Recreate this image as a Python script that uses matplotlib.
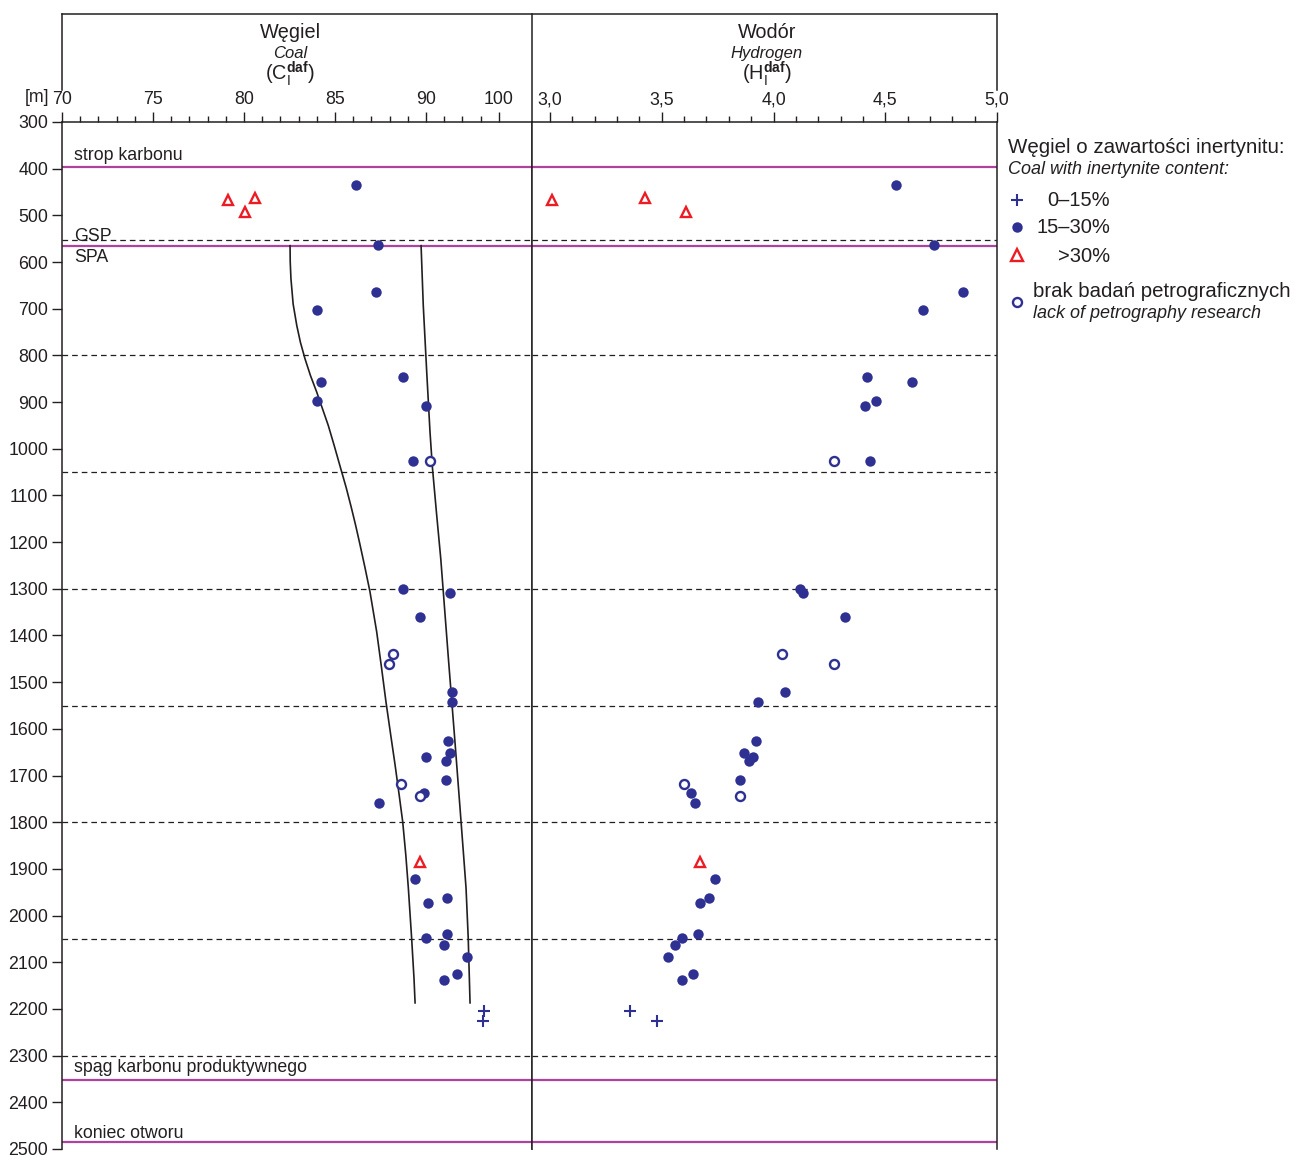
import matplotlib
matplotlib.use('Agg')
import matplotlib.pyplot as plt
from matplotlib.ticker import FixedLocator, FixedFormatter

plt.rcParams['font.family'] = ['Liberation Sans', 'DejaVu Sans']
plt.rcParams['mathtext.fontset'] = 'custom'
plt.rcParams['mathtext.rm'] = 'Liberation Sans'
plt.rcParams['mathtext.it'] = 'Liberation Sans:italic'
plt.rcParams['mathtext.bf'] = 'Liberation Sans:bold'

# samples: depth [m], C daf, H daf
dot_depth = [434, 564, 664, 702, 847, 856, 898, 909, 1026, 1301, 1309, 1360, 1522, 1543,
             1626, 1651, 1660, 1668, 1710, 1738, 1759, 1922, 1963, 1972, 2039, 2047, 2063,
             2088, 2125, 2138]
dot_c = [86.15, 87.35, 87.24, 84.0, 88.72, 84.23, 83.99, 90.0, 89.27, 88.74, 91.3, 89.69,
         91.41, 91.41, 91.19, 91.3, 90.0, 91.08, 91.08, 89.91, 87.43, 89.38, 91.17, 90.11,
         91.17, 90.02, 90.97, 92.25, 91.72, 90.97]
dot_h = [4.55, 4.72, 4.85, 4.67, 4.42, 4.62, 4.46, 4.41, 4.43, 4.12, 4.13, 4.32,
         4.05, 3.93, 3.92, 3.87, 3.91, 3.89, 3.85, 3.63, 3.65, 3.74, 3.71, 3.67,
         3.66, 3.59, 3.56, 3.53, 3.64, 3.59]

open_depth = [1026, 1439, 1460, 1718, 1743]
open_c = [90.22, 88.21, 87.97, 88.61, 89.69]
open_h = [4.27, 4.04, 4.27, 3.60, 3.85]

tri_depth = [468, 463, 493, 1885]
tri_c = [79.1, 80.6, 80.07, 89.69]
tri_h = [3.007, 3.425, 3.608, 3.67]

plus_depth = [2205, 2226]
plus_c = [93.2, 93.11]
plus_h = [3.356, 3.479]

# trend lines in the carbon panel
trend1_depth = [565, 600, 636, 690, 736, 772, 807, 843, 878, 914, 950, 995, 1039, 1084,
                1128, 1165, 1203, 1255, 1306, 1392, 1470, 1542, 1610, 1677, 1740, 1799,
                1870, 1941, 2048, 2134, 2187]
trend1_c = [82.53, 82.54, 82.58, 82.70, 82.90, 83.10, 83.35, 83.65, 83.99, 84.31, 84.63,
            84.97, 85.29, 85.62, 85.91, 86.14, 86.36, 86.65, 86.92, 87.29, 87.56, 87.80,
            88.05, 88.30, 88.52, 88.72, 88.89, 89.03, 89.21, 89.34, 89.40]
trend2_depth = [565, 693, 836, 964, 1039, 1139, 1235, 1306, 1449, 1627, 1770, 1873, 1941,
                2048, 2187]
trend2_c = [89.73, 89.85, 90.04, 90.22, 90.35, 90.58, 90.81, 90.95, 91.23, 91.59, 91.87,
            92.07, 92.20, 92.32, 92.42]

dashed_depth = [552, 800, 1050, 1300, 1550, 1800, 2050, 2300]
horizon_depth = [397, 565, 2352, 2485]
horizon_names = ['strop karbonu', 'GSP', 'SPA', 'spąg karbonu produktywnego', 'koniec otworu']
horizon_name_depth = [381, 554, 599, 2336, 2476]

depth_ticks = list(range(300, 2501, 100))
c_ticks = [70, 75, 80, 85, 90, 94]
c_labels = ['70', '75', '80', '85', '90', '100']
c_minor = [v for v in range(71, 94) if v not in c_ticks]
h_ticks = [3.0, 3.5, 4.0, 4.5, 5.0]
h_labels = ['3,0', '3,5', '4,0', '4,5', '5,0']
h_minor = [round(3.0 + 0.1 * i, 1) for i in range(1, 20) if i % 5 != 0]

W, H = 1298, 1158
ink = '#231f20'
navy = '#2e3192'
red = '#ed1c24'
magenta = '#b0429f'

fig = plt.figure(figsize=(W / 100, H / 100), dpi=100)


def box(x0, y0, x1, y1):
    return [x0 / W, 1 - y1 / H, (x1 - x0) / W, (y1 - y0) / H]


ax1 = fig.add_axes(box(62, 122, 532, 1149))
ax2 = fig.add_axes(box(532, 122, 997, 1149))

for ax in (ax1, ax2):
    ax.set_ylim(2500, 300)
    ax.spines['bottom'].set_visible(False)
    for s in ax.spines.values():
        s.set_color(ink)
        s.set_linewidth(1.1)
    ax.xaxis.tick_top()
    ax.tick_params(axis='x', which='major', direction='out', length=7, width=1, color=ink,
                   labelsize=12.8, labelcolor=ink, pad=3)
    ax.tick_params(axis='x', which='minor', direction='out', length=4, width=1, color=ink)
    for d in dashed_depth:
        ax.axhline(d, color=ink, lw=0.9, dashes=(4.5, 3.2), zorder=1)
    for d in horizon_depth:
        ax.axhline(d, color=magenta, lw=1.6, zorder=1)

ax1.set_xlim(70, 70 + 470 / 18.2)
ax1.xaxis.set_major_locator(FixedLocator(c_ticks))
ax1.xaxis.set_major_formatter(FixedFormatter(c_labels))
ax1.xaxis.set_minor_locator(FixedLocator(c_minor))
ax1.set_yticks(depth_ticks)
ax1.tick_params(axis='y', direction='out', length=7, width=1, color=ink, labelsize=12.8,
                labelcolor=ink, pad=3)

ax2.set_xlim(3.0 - 18 / 223.5, 5.0)
ax2.xaxis.set_major_locator(FixedLocator(h_ticks))
ax2.xaxis.set_major_formatter(FixedFormatter(h_labels))
ax2.xaxis.set_minor_locator(FixedLocator(h_minor))
ax2.set_yticks([])

# horizon names
for name, d in zip(horizon_names, horizon_name_depth):
    ax1.text(0.026, d, name, transform=ax1.get_yaxis_transform(), fontsize=12.8, color=ink,
             va='baseline', ha='left')

# trend lines
ax1.plot(trend1_c, trend1_depth, color=ink, lw=1.2, zorder=2)
ax1.plot(trend2_c, trend2_depth, color=ink, lw=1.2, zorder=2)

# samples
for ax, dc, oc, tc, pc in ((ax1, dot_c, open_c, tri_c, plus_c),
                          (ax2, dot_h, open_h, tri_h, plus_h)):
    ax.plot(dc, dot_depth, 'o', color=navy, ms=7.5, mew=0, zorder=3)
    ax.plot(oc, open_depth, 'o', mfc='white', mec=navy, ms=6.5, mew=1.7, zorder=3)
    ax.plot(tc, tri_depth, '^', mfc='white', mec=red, ms=7, mew=1.7, zorder=3)
    ax.plot(pc, plus_depth, '+', color=navy, ms=9, mew=1.5, zorder=3)

# overlay in pixel coordinates: header frame, titles, legend
ov = fig.add_axes([0, 0, 1, 1])
ov.set_xlim(0, W)
ov.set_ylim(H, 0)
ov.axis('off')
ov.patch.set_alpha(0)

ov.plot([62, 62], [14, 90], color=ink, lw=1.1)
ov.plot([997, 997], [14, 90], color=ink, lw=1.1)
ov.plot([532, 532], [14, 122], color=ink, lw=1.1)
ov.plot([62, 997], [14, 14], color=ink, lw=1.1)

ov.text(290, 38, 'Węgiel', fontsize=14.3, color=ink, ha='center', va='baseline')
ov.text(290, 58, 'Coal', fontsize=12, style='italic', color=ink, ha='center', va='baseline')
ov.text(290, 80, r'$\mathrm{(C_I^{\mathbf{daf}})}$', fontsize=14.3, color=ink, ha='center',
        va='baseline')
ov.text(767, 38, 'Wodór', fontsize=14.3, color=ink, ha='center', va='baseline')
ov.text(767, 58, 'Hydrogen', fontsize=12, style='italic', color=ink, ha='center',
        va='baseline')
ov.text(767, 80, r'$\mathrm{(H_I^{\mathbf{daf}})}$', fontsize=14.3, color=ink, ha='center',
        va='baseline')
ov.text(25, 97, '[m]', fontsize=12.8, color=ink, ha='left', va='center')

# legend
ov.text(1008, 153, 'Węgiel o zawartości inertynitu:', fontsize=14.8, color=ink,
        va='baseline')
ov.text(1008, 174, 'Coal with inertynite content:', fontsize=13, style='italic', color=ink,
        va='baseline')
ov.plot([1017], [200], '+', color=navy, ms=9, mew=1.5)
ov.text(1047, 206, '0–15%', fontsize=14.5, color=ink, va='baseline')
ov.plot([1017], [227], 'o', color=navy, ms=7.5, mew=0)
ov.text(1036, 233, '15–30%', fontsize=14.5, color=ink, va='baseline')
ov.plot([1017], [255], '^', mfc='white', mec=red, ms=9, mew=1.7)
ov.text(1058, 262, '>30%', fontsize=14.5, color=ink, va='baseline')
ov.plot([1017], [302], 'o', mfc='white', mec=navy, ms=6.5, mew=1.7)
ov.text(1033, 297, 'brak badań petrograficznych', fontsize=14.7, color=ink, va='baseline')
ov.text(1033, 318, 'lack of petrography research', fontsize=13, style='italic', color=ink,
        va='baseline')

fig.savefig('out.png', dpi=100)
